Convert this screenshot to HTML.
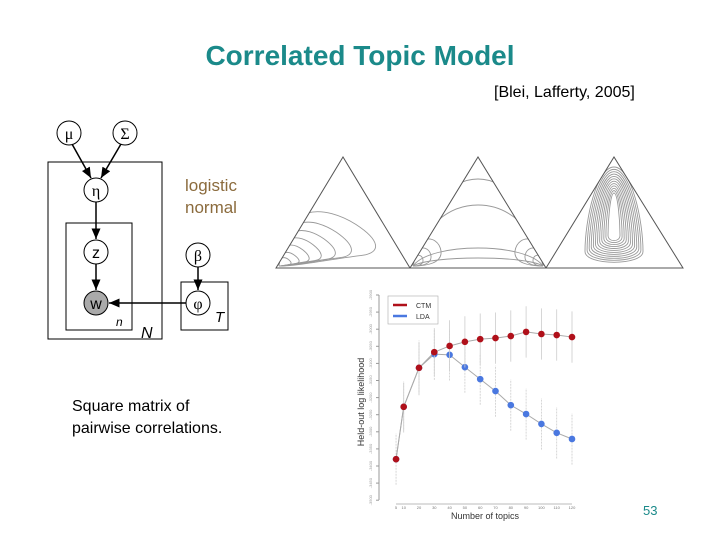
<!DOCTYPE html>
<html><head><meta charset="utf-8"><style>
body{margin:0;background:#fff;}
#root{position:relative;width:720px;height:540px;overflow:hidden;font-family:"Liberation Sans",sans-serif;}
.t{position:absolute;white-space:nowrap;}
</style></head><body>
<div id="root">
<div class="t" style="left:0;width:720px;text-align:center;top:40px;font-size:28px;font-weight:bold;color:#1b8a8a;">Correlated Topic Model</div>
<div class="t" style="left:494px;top:84px;font-size:16px;color:#000;">[Blei, Lafferty, 2005]</div>
<div class="t" style="left:185px;top:175px;font-size:17px;line-height:22px;color:#8b6b3d;">logistic<br>normal</div>
<div class="t" style="left:72px;top:396px;font-size:16px;line-height:22px;color:#000;">Square matrix of<br>pairwise correlations.</div>
<div class="t" style="left:643px;top:503px;font-size:13px;color:#1b8a8a;">53</div>

<svg width="720" height="540" style="position:absolute;left:0;top:0">
<defs><marker id="ar" markerWidth="8" markerHeight="8" refX="7" refY="4" orient="auto"><path d="M0,1 L7,4 L0,7z" fill="#000"/></marker></defs>
<g fill="none" stroke="#000" stroke-width="1">
<rect x="48" y="162" width="114" height="177"/>
<rect x="66" y="223" width="66" height="107"/>
<rect x="181" y="282" width="47" height="48"/>
</g>
<g stroke="#000" stroke-width="1.5" marker-end="url(#ar)">
<line x1="72" y1="144" x2="91" y2="178"/><line x1="121" y1="144" x2="101" y2="178"/>
<line x1="96" y1="202" x2="96" y2="239"/><line x1="96" y1="264" x2="96" y2="290"/>
<line x1="186" y1="303" x2="109" y2="303"/><line x1="198" y1="267" x2="198" y2="290"/>
</g>
<g fill="#fff" stroke="#000" stroke-width="1">
<circle cx="69" cy="133" r="12"/>
<circle cx="125" cy="133" r="12"/>
<circle cx="96" cy="190" r="12"/>
<circle cx="96" cy="252" r="12"/>
<circle cx="96" cy="303" r="12" fill="#aaa"/>
<circle cx="198" cy="255" r="12"/>
<circle cx="198" cy="303" r="12"/>
</g>
<g font-family="Liberation Serif,serif" font-size="16" text-anchor="middle">
<text x="69" y="139">μ</text><text x="125" y="139">Σ</text><text x="96" y="196">η</text>
<text x="96" y="258" font-family="Liberation Sans,sans-serif">z</text><text x="96" y="309" font-family="Liberation Sans,sans-serif">w</text>
<text x="198" y="261">β</text><text x="198" y="309">φ</text>
</g>
<g font-family="Liberation Sans,sans-serif" font-style="italic">
<text x="116" y="326" font-size="12">n</text><text x="141" y="338" font-size="16">N</text><text x="215" y="322" font-size="15">T</text>
</g>
<clipPath id="c1"><path d="M276,268 L343,157 L410,268z"/></clipPath>
<clipPath id="c2"><path d="M410,268 L478,157 L546,268z"/></clipPath>
<clipPath id="c3"><path d="M546,268 L614,157 L683,268z"/></clipPath>
<g fill="none" stroke="#999" stroke-width="0.9">
<g clip-path="url(#c1)" id="g1"></g>
<g clip-path="url(#c2)" id="g2"></g>
<g clip-path="url(#c3)" id="g3"></g>
</g>
<g fill="none" stroke="#555" stroke-width="1">
<path d="M276,268 L343,157 L410,268z"/>
<path d="M410,268 L478,157 L546,268z"/>
<path d="M546,268 L614,157 L683,268z"/>
</g>
</svg>

<svg id="chart" width="720" height="540" style="position:absolute;left:0;top:0"></svg>
</div>
<script>
const topics=[5,10,20,30,40,50,60,70,80,90,100,110,120];
const ctmValues=[-3380,-3227,-3113,-3067,-3049,-3037,-3029,-3026,-3020,-3008,-3014,-3017,-3023];
const ldaValues=[-3380,-3227,-3113,-3073,-3075,-3111,-3146,-3181,-3222,-3248,-3277,-3303,-3321];
const ctmErr=[0,70,75,70,75,75,75,75,75,75,75,75,75];
const ldaErr=[75,75,80,75,75,75,75,75,75,75,75,75,75];
const yTicks=[-2900,-2950,-3000,-3050,-3100,-3150,-3200,-3250,-3300,-3350,-3400,-3450,-3500];
const NS='http://www.w3.org/2000/svg';
function X(v){return 388.4+1.53*v;}
function Y(v){return 295+(-2900-v)*0.342;}
const svg=document.getElementById('chart');
function mk(t,a,p){const e=document.createElementNS(NS,t);for(const k in a)e.setAttribute(k,a[k]);(p||svg).appendChild(e);return e;}
function pth(g,d){const e=mk('path',{d:d},g);}
(function(){const g=document.getElementById('g1');const cx=279,cy=266;
[[96,52],[72,42],[56,34],[42,27],[30,20],[20,13],[12,8]].forEach(([L,h])=>{
 pth(g,`M${cx},${cy} C${cx+0.02*L},${cy-1.3*h} ${cx+0.5*L},${cy-1.15*h} ${cx+0.8*L},${cy-0.8*h} C${cx+1.05*L},${cy-0.5*h} ${cx+1.08*L},${cy-0.25*h} ${cx+0.85*L},${cy-0.2*h} C${cx+0.5*L},${cy-0.12*h} ${cx+0.2*L},${cy} ${cx},${cy}`);});})();
(function(){const g=document.getElementById('g2');
[179,205,248,258].forEach(p=>{const c=266-(266-p)*4/3;pth(g,`M413,266 C430,${c} 526,${c} 543,266`);});
[[28,30],[18,20],[10,12]].forEach(([L,h])=>{
 pth(g,`M413,266 C412,${266-1.1*h} ${413+0.9*L},${266-1.1*h} ${413+L},${266-0.5*h} C${413+1.05*L},${266-0.1*h} ${413+0.5*L},${266} 413,266`);
 pth(g,`M543,266 C544,${266-1.1*h} ${543-0.9*L},${266-1.1*h} ${543-L},${266-0.5*h} C${543-1.05*L},${266-0.1*h} ${543-0.5*L},${266} 543,266`);});})();
(function(){const g=document.getElementById('g3');const n=12;
for(let i=0;i<n;i++){const f=i/(n-1);const t=167+f*26,b=263-f*22,w=29-f*23,H=b-t,x=614;
 pth(g,`M${x},${t} C${x+0.6*w},${t} ${x+w},${b-0.45*H} ${x+w},${b-0.12*H} C${x+w},${b+0.03*H} ${x-w},${b+0.03*H} ${x-w},${b-0.12*H} C${x-w},${b-0.45*H} ${x-0.6*w},${t} ${x},${t}`);}})();
const ax=mk('line',{x1:379,y1:295,x2:379,y2:500,stroke:'#999'});

yTicks.forEach(t=>{const y=Y(t);mk('line',{x1:376,y1:y,x2:379,y2:y,stroke:'#999'});
 const tx=mk('text',{x:372,y:y,'font-size':4,fill:'#999','text-anchor':'middle',transform:`rotate(-90 372 ${y})`});tx.textContent=t;
 });
const xa=mk('line',{x1:X(5),y1:504,x2:X(120),y2:504,stroke:'#bbb'});

topics.forEach(t=>{const tx=mk('text',{x:X(t),y:509,'font-size':4,fill:'#777','text-anchor':'middle'});tx.textContent=t;
 });
const xl=mk('text',{x:485,y:519,'font-size':9,fill:'#333','text-anchor':'middle'});xl.textContent='Number of topics';

const yl=mk('text',{x:364,y:402,'font-size':9,fill:'#333','text-anchor':'middle',transform:'rotate(-90 364 402)'});yl.textContent='Held-out log likelihood';

function series(vals,errs,color,name,dash){
 vals.forEach((v,i)=>{const e=mk('line',{x1:X(topics[i]),x2:X(topics[i]),y1:Y(v-errs[i]),y2:Y(v+errs[i]),stroke:'#ccc','stroke-width':0.8,'stroke-dasharray':dash});
  });
 const p=mk('polyline',{points:vals.map((v,i)=>X(topics[i])+','+Y(v)).join(' '),fill:'none',stroke:'#aaa','stroke-width':1});
 
 vals.forEach((v,i)=>{const c=mk('circle',{cx:X(topics[i]),cy:Y(v),r:3.3,fill:color});
  });
}
series(ldaValues,ldaErr,'#4a78e0','lda','2,1');
series(ctmValues,ctmErr,'#b0101a','ctm','');
const lg=mk('rect',{x:388,y:296,width:50,height:28,fill:'#fff',stroke:'#aaa','stroke-width':0.6});

mk('line',{x1:393,y1:305,x2:407,y2:305,stroke:'#b0101a','stroke-width':2.5});
mk('line',{x1:393,y1:316,x2:407,y2:316,stroke:'#4a78e0','stroke-width':2.5});
const l1=mk('text',{x:416,y:308,'font-size':7,fill:'#333'});l1.textContent='CTM';

const l2=mk('text',{x:416,y:319,'font-size':7,fill:'#333'});l2.textContent='LDA';

</script>
</body></html>
